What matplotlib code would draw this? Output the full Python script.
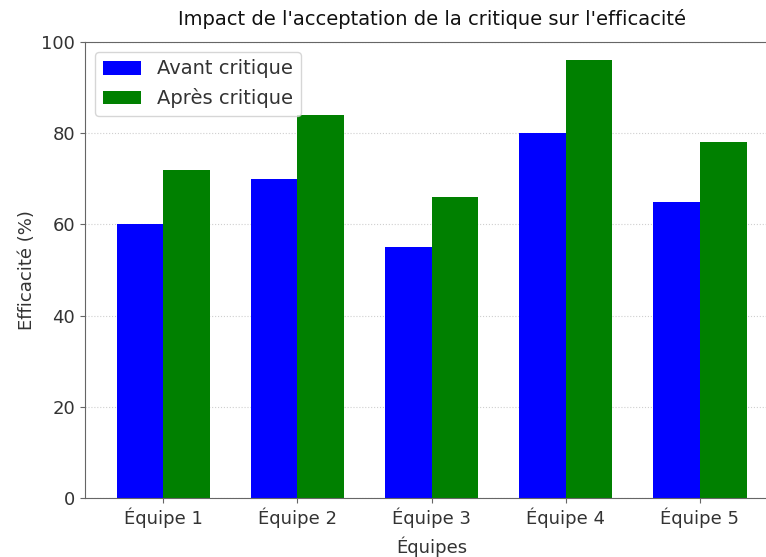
import matplotlib
matplotlib.use("Agg")
import matplotlib.pyplot as plt
import numpy as np

plt.rcParams['font.family'] = ['DejaVu Sans']
plt.rcParams['text.color'] = '#333333'
plt.rcParams['axes.labelcolor'] = '#333333'
plt.rcParams['xtick.color'] = '#666666'
plt.rcParams['ytick.color'] = '#666666'
plt.rcParams['xtick.labelcolor'] = '#333333'
plt.rcParams['ytick.labelcolor'] = '#333333'
plt.rcParams['axes.edgecolor'] = '#666666'

categories = ["Équipe 1", "Équipe 2", "Équipe 3", "Équipe 4", "Équipe 5"]
avant = [60, 70, 55, 80, 65]
apres = [72, 84, 66, 96, 78]

fig = plt.figure(figsize=(7.66, 5.57), dpi=100)
ax = fig.add_axes([85/766, 1-498/557, (778-85)/766, (498-42)/557])

x = np.arange(len(categories))
w = 0.35
ax.bar(x - w/2, avant, w, color='blue', label='Avant critique')
ax.bar(x + w/2, apres, w, color='green', label='Après critique')

ax.set_xticks(x)
ax.set_xticklabels(categories, fontsize=13)
ax.tick_params(axis='y', labelsize=13)
ax.set_ylim(0, 100)
ax.set_xlim(-0.585, 4.585)
ax.set_xlabel('Équipes', fontsize=13, labelpad=6)
ax.set_ylabel('Efficacité (%)', fontsize=13)
ax.set_title("Impact de l'acceptation de la critique sur l'efficacité",
             fontsize=14, pad=12, color='#111111')
ax.grid(axis='y', linestyle=':', alpha=0.6)
ax.set_axisbelow(True)
ax.legend(loc='upper left', fontsize=14)

fig.savefig('out.png', dpi=100)
